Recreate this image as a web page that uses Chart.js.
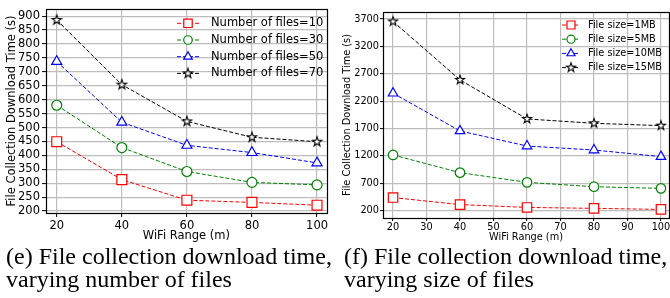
<!DOCTYPE html>
<html>
<head>
<meta charset="utf-8">
<script src="https://cdn.jsdelivr.net/npm/chart.js@4.4.0/dist/chart.umd.min.js"></script>
<style>
    html, body { margin: 0; padding: 0; background: #fff; }
    #page { position: relative; width: 670px; height: 298px; overflow: hidden; background: #fff; }
    .panel { position: absolute; top: 0; height: 248px; overflow: hidden; }
    #leftPanel { left: 0; width: 335px; }
    #rightPanel { left: 335px; width: 335px; }
    .caption {
        position: absolute; top: 245px;
        font-family: 'Liberation Serif', 'Times New Roman', serif;
        font-size: 24px; line-height: 23px; color: #000; white-space: nowrap;
    }
</style>
</head>
<body>
<div id="page">
    <div class="panel" id="leftPanel"><canvas id="filesChart" width="335" height="248"></canvas></div>
    <div class="panel" id="rightPanel"><canvas id="sizeChart" width="345" height="248"></canvas></div>
    <div class="caption" style="left:6px">(e) File collection download time,<br>varying number of files</div>
    <div class="caption" style="left:344px">(f) File collection download time,<br>varying size of files</div>
</div>
<script>
// x values, shared by both panels
const wifiRange = [20, 40, 60, 80, 100];

// (e) varying number of files
const filesLabels = ['Number of files=10', 'Number of files=30', 'Number of files=50', 'Number of files=70'];
const files10 = [449, 313, 239, 231, 221];
const files30 = [580, 428, 342, 303, 294];
const files50 = [737, 519, 436, 410, 373];
const files70 = [886, 654, 522, 465, 449];

// (f) varying size of files
const sizeLabels = ['File size=1MB', 'File size=5MB', 'File size=10MB', 'File size=15MB'];
const size1MB = [440, 312, 260, 243, 224];
const size5MB = [1218, 895, 718, 638, 608];
const size10MB = [2345, 1656, 1381, 1308, 1188];
const size15MB = [3655, 2588, 1875, 1796, 1753];

// tick labels
const filesXTicks = [20, 40, 60, 80, 100];
const filesYTicks = [200, 250, 300, 350, 400, 450, 500, 550, 600, 650, 700, 750, 800, 850, 900];
const sizeXTicks = [20, 30, 40, 50, 60, 70, 80, 90, 100];
const sizeYTicks = [200, 700, 1200, 1700, 2200, 2700, 3200, 3700];

const FONT = 'DejaVu Sans, sans-serif';
const GRID = '#bdbdbd';

Chart.defaults.color = '#000';
Chart.defaults.font.family = FONT;

// matplotlib style five point star, as an image for pointStyle
function makeStar(outer, color) {
    const inner = outer * 0.4;
    const size = Math.ceil(outer * 2 + 4);
    const c = document.createElement('canvas');
    c.width = size;
    c.height = size;
    const g = c.getContext('2d');
    g.beginPath();
    for (let k = 0; k < 10; k++) {
        const r = k % 2 ? inner : outer;
        const a = -Math.PI / 2 + k * Math.PI / 5;
        g.lineTo(size / 2 + r * Math.cos(a), size / 2 + r * Math.sin(a));
    }
    g.closePath();
    g.fillStyle = '#fff';
    g.fill();
    g.lineWidth = 1.1;
    g.strokeStyle = color;
    g.stroke();
    return c;
}

const toPoints = (ys) => wifiRange.map((x, i) => ({ x: x, y: ys[i] }));

function makeSeries(labels, values, scale) {
    const colors = ['#ff0000', '#008000', '#0000ff', '#000000'];
    const styles = ['rect', 'circle', 'triangle', makeStar(5 * scale, '#000')];
    const radii = [7, 5, 5.8, 5];
    return values.map((ys, i) => ({
        label: labels[i],
        data: toPoints(ys),
        borderColor: colors[i],
        borderWidth: 1,
        borderDash: [4, 2],
        pointStyle: styles[i],
        pointRadius: radii[i] * scale,
        pointHoverRadius: radii[i] * scale,
        pointBackgroundColor: '#fff',
        pointBorderColor: colors[i],
        pointBorderWidth: 1.2,
        tension: 0
    }));
}

// draw one legend marker the same way as the points
function drawMarker(ctx, style, x, y, r, color) {
    ctx.save();
    ctx.fillStyle = '#fff';
    ctx.strokeStyle = color;
    ctx.lineWidth = 1.2;
    ctx.setLineDash([]);
    ctx.beginPath();
    if (style === 'rect') {
        const s = Math.SQRT1_2 * r;
        ctx.rect(x - s, y - s, 2 * s, 2 * s);
    } else if (style === 'circle') {
        ctx.arc(x, y, r, 0, Math.PI * 2);
    } else if (style === 'triangle') {
        for (let k = 0; k < 3; k++) {
            const a = -Math.PI / 2 + k * 2 * Math.PI / 3;
            ctx.lineTo(x + r * Math.cos(a), y + r * Math.sin(a));
        }
        ctx.closePath();
    } else {
        ctx.drawImage(style, x - style.width / 2, y - style.height / 2);
        ctx.restore();
        return;
    }
    ctx.fill();
    ctx.stroke();
    ctx.restore();
}

// axes frame + legend like matplotlib
const mplPlugin = {
    id: 'mpl',
    afterDatasetsDraw(chart, args, opts) {
        const { ctx, chartArea: a } = chart;
        ctx.save();
        ctx.strokeStyle = '#000';
        ctx.lineWidth = 1.2;
        ctx.setLineDash([]);
        ctx.strokeRect(Math.round(a.left) + 0.5, Math.round(a.top) + 0.5,
            Math.round(a.right - a.left), Math.round(a.bottom - a.top));

        ctx.font = opts.fontSize + 'px ' + FONT;
        ctx.textBaseline = 'middle';
        ctx.fillStyle = '#000';
        chart.data.datasets.forEach((ds, i) => {
            const y = opts.y + i * opts.dy;
            ctx.beginPath();
            ctx.strokeStyle = ds.borderColor;
            ctx.lineWidth = 1;
            ctx.setLineDash(ds.borderDash);
            ctx.moveTo(opts.x, y);
            ctx.lineTo(opts.x + opts.len, y);
            ctx.stroke();
            drawMarker(ctx, ds.pointStyle, opts.x + opts.len / 2, y, ds.pointRadius * 0.85, ds.borderColor);
            ctx.fillText(ds.label, opts.textX, y);
        });
        ctx.restore();
    }
};

function axis(min, max, ticks, size, fit, tickLen, pad, title, titlePad) {
    return {
        type: 'linear',
        min: min,
        max: max,
        afterBuildTicks: (scale) => { scale.ticks = ticks.map(v => ({ value: v })); },
        afterFit: fit,
        ticks: {
            font: { size: size }, padding: pad, maxRotation: 0, autoSkip: false,
            callback: (v) => String(v)
        },
        grid: { color: GRID, lineWidth: 1.2, tickLength: tickLen, tickColor: '#000', tickWidth: 1 },
        border: { display: false },
        title: { display: true, text: title, font: { size: size }, padding: titlePad }
    };
}

function initCharts() {
    new Chart(document.getElementById('filesChart'), {
        type: 'line',
        data: { datasets: makeSeries(filesLabels, [files10, files30, files50, files70], 1) },
        options: {
            responsive: false,
            animation: false,
            layout: { padding: { left: 0, top: 6, right: 2, bottom: 0 } },
            scales: {
                x: axis(16.7, 103, filesXTicks, 11.5, (s) => { s.height = 35; }, 4, 2,
                    'WiFi Range (m)', { top: 0, bottom: 4.6 }),
                y: axis(193, 926, filesYTicks, 11.5, (s) => { s.width = 46; }, 4, 2,
                    'File Collection Download Time (s)', { top: 5, bottom: 0 })
            },
            plugins: {
                legend: { display: false },
                tooltip: { enabled: false },
                mpl: { x: 177, y: 23.3, dy: 16.7, len: 22, textX: 211, fontSize: 11.5 }
            }
        },
        plugins: [mplPlugin]
    });

    new Chart(document.getElementById('sizeChart'), {
        type: 'line',
        data: { datasets: makeSeries(sizeLabels, [size1MB, size5MB, size10MB, size15MB], 0.95) },
        options: {
            responsive: false,
            animation: false,
            layout: { padding: { left: 0, top: 12, right: 11, bottom: 0 } },
            scales: {
                x: axis(17, 102.4, sizeXTicks, 9.75, (s) => { s.height = 30; }, 3, 1,
                    'WiFi Range (m)', { top: 0, bottom: 4.2 }),
                y: axis(67, 3828, sizeYTicks, 9.75, (s) => { s.width = 48; }, 3, 1,
                    'File Collection Download Time (s)', { top: 7, bottom: 0 })
            },
            plugins: {
                legend: { display: false },
                tooltip: { enabled: false },
                mpl: { x: 227, y: 25, dy: 14.2, len: 18, textX: 253, fontSize: 9.75 }
            }
        },
        plugins: [mplPlugin]
    });
}

document.addEventListener('DOMContentLoaded', initCharts);
</script>
</body>
</html>
